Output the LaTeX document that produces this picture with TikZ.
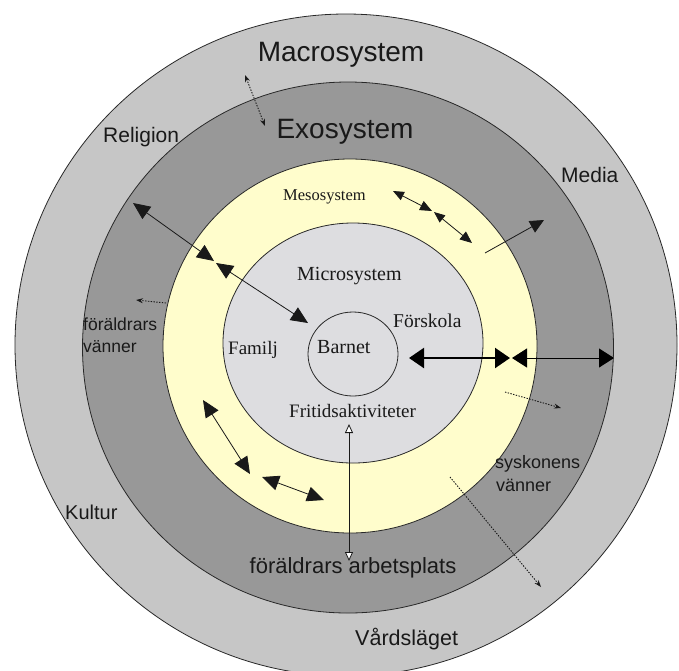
\documentclass[tikz,border=0pt]{standalone}
\usepackage{fontspec}
\setmainfont{Liberation Serif}
\newfontfamily\arialf{Liberation Sans}
\usetikzlibrary{arrows.meta}
\definecolor{macrocol}{RGB}{198,198,198}
\definecolor{exocol}{RGB}{152,152,152}
\definecolor{mesocol}{RGB}{255,253,204}
\definecolor{microcol}{RGB}{221,221,224}
\definecolor{edgecol}{RGB}{40,40,40}
\definecolor{txtcol}{RGB}{25,25,25}
\begin{document}
\begin{tikzpicture}[x=1pt,y=-1pt,
  ring/.style={draw=edgecol,line width=0.8pt},
  sanslab/.style={inner sep=0pt,text=txtcol,font={\arialf\fontsize{#1}{#1}\selectfont}},
  seriflab/.style={inner sep=0pt,text=txtcol,font={\fontsize{#1}{#1}\selectfont}},
  bigarrow/.style={line width=0.8pt,{Triangle[length=17pt,width=15pt]}-{Triangle[length=17pt,width=15pt]}},
  smallarrow/.style={line width=0.8pt,{Triangle[length=11pt,width=9pt]}-{Triangle[length=12pt,width=10pt]}},
  thickarrow/.style={line width=2.2pt,{Triangle[length=15pt,width=20pt]}-{Triangle[length=15pt,width=20pt]}},
  wideboth/.style={line width=1pt,{Triangle[length=15pt,width=19pt]}-{Triangle[length=15pt,width=19pt]}},
  onearrow/.style={line width=0.8pt,-{Triangle[length=14pt,width=13pt]}},
  dotarrow/.style={line width=0.9pt,dash pattern=on 1.4pt off 1.4pt,-{Stealth[length=7pt,width=5pt]}},
  dotboth/.style={line width=0.9pt,dash pattern=on 1.4pt off 1.4pt,{Stealth[length=7pt,width=5pt]}-{Stealth[length=7pt,width=5pt]}},
  openboth/.style={line width=0.8pt,{Triangle[open,fill=white,length=9pt,width=8pt]}-{Triangle[open,fill=white,length=9pt,width=8pt]}}
]
\useasboundingbox (0,0) rectangle (679,670);
\fill[white] (0,0) rectangle (679,670);
\begin{scope}
\clip (0,0) rectangle (679,670);
% rings
\filldraw[ring,fill=macrocol] (346,345) circle [radius=331pt];
\filldraw[ring,fill=exocol] (348,347.5) circle [radius=265.5pt];
\filldraw[ring,fill=mesocol] (350,346) circle [radius=187pt];
\filldraw[ring,fill=microcol] (353,343) ellipse [x radius=130pt,y radius=120pt];
\draw[ring] (353,354) ellipse [x radius=45pt,y radius=42pt];
\end{scope}

% labels (sans)
\node[sanslab=28,anchor=base] (macro) at (341,61) {Macrosystem};
\node[sanslab=28,anchor=base] (exo) at (345,138) {Exosystem};
\node[sanslab=21,anchor=base west] (religion) at (103,142) {Religion};
\node[sanslab=21,anchor=base west] (media) at (561,182) {Media};
\node[sanslab=17.5,anchor=base west] (fvanner) at (83,330) {föräldrars};
\node[sanslab=17.5,anchor=base west] (fvanner2) at (83,352) {vänner};
\node[sanslab=20,anchor=base west] (kultur) at (65,519) {Kultur};
\node[sanslab=18,anchor=base west] (sysk) at (495,468) {syskonens};
\node[sanslab=18,anchor=base west] (sysk2) at (496,491) {vänner};
\node[sanslab=22,anchor=base] (arb) at (353,573) {föräldrars arbetsplats};
\node[sanslab=21.5,anchor=base west] (vard) at (355,645) {Vårdsläget};

% labels (serif)
\node[seriflab=16.5,anchor=base west] (meso) at (283,200) {Mesosystem};
\node[seriflab=20,anchor=base west] (micro) at (297,280) {Microsystem};
\node[seriflab=19.5,anchor=base west] (forsk) at (393,327) {Förskola};
\node[seriflab=19,anchor=base west] (familj) at (228,354) {Familj};
\node[seriflab=20,anchor=base west] (barnet) at (317,353) {Barnet};
\node[seriflab=19,anchor=base west] (fritid) at (289,417) {Fritidsaktiviteter};

% arrow end points
\coordinate (d1a) at (245,75);   \coordinate (d1b) at (265,126);
\coordinate (a2a) at (133,203);  \coordinate (a2b) at (214,261);
\coordinate (a3a) at (216,263);  \coordinate (a3b) at (308,323);
\coordinate (a4a) at (393,191);  \coordinate (a4b) at (432,211);
\coordinate (a5a) at (434,212);  \coordinate (a5b) at (472,243);
\coordinate (a6a) at (485,253);  \coordinate (a6b) at (544,220);
\coordinate (t1a) at (409,358);  \coordinate (t1b) at (510,358);
\coordinate (t2a) at (512,358);  \coordinate (t2b) at (614,358);
\coordinate (d2a) at (505,392);  \coordinate (d2b) at (561,408);
\coordinate (d3a) at (450,477);  \coordinate (d3b) at (541,587);
\coordinate (d4a) at (166,303);  \coordinate (d4b) at (136,300);
\coordinate (o1a) at (349,424);  \coordinate (o1b) at (349,561);
\coordinate (b1a) at (203,400);  \coordinate (b1b) at (250,474);
\coordinate (b2a) at (262,477);  \coordinate (b2b) at (324,500);

\draw[dotboth,draw=txtcol] (d1a) -- (d1b);
\draw[bigarrow,draw=txtcol] (a2a) -- (a2b);
\draw[bigarrow,draw=txtcol] (a3a) -- (a3b);
\draw[smallarrow,draw=txtcol] (a4a) -- (a4b);
\draw[smallarrow,draw=txtcol] (a5a) -- (a5b);
\draw[onearrow,draw=txtcol] (a6a) -- (a6b);
\draw[thickarrow,draw=black] (t1a) -- (t1b);
\draw[wideboth,draw=black] (t2a) -- (t2b);
\draw[dotarrow,draw=txtcol] (d2a) -- (d2b);
\draw[dotarrow,draw=txtcol] (d3a) -- (d3b);
\draw[dotarrow,draw=txtcol] (d4a) -- (d4b);
\draw[openboth,draw=txtcol] (o1a) -- (o1b);
\draw[bigarrow,draw=txtcol] (b1a) -- (b1b);
\draw[bigarrow,draw=txtcol] (b2a) -- (b2b);
\end{tikzpicture}
\end{document}
